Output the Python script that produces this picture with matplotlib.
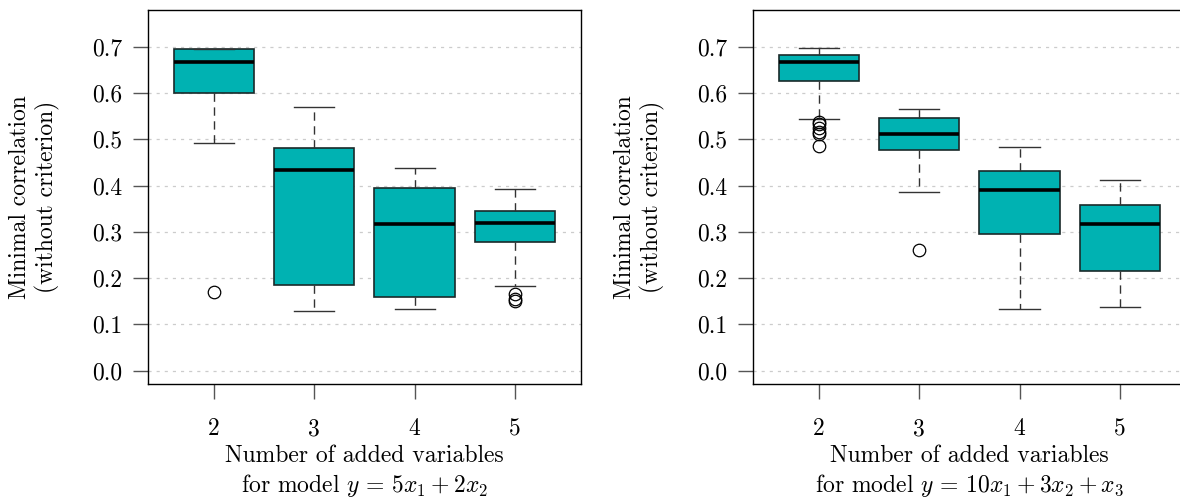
import matplotlib.pyplot as plt

plt.rcParams['font.family'] = 'serif'
plt.rcParams['font.serif'] = ['cmr10']
plt.rcParams['mathtext.fontset'] = 'cm'
plt.rcParams['axes.unicode_minus'] = False

groups = [2, 3, 4, 5]
y_ticks = [0.0, 0.1, 0.2, 0.3, 0.4, 0.5, 0.6, 0.7]
y_tick_labels = ["0.0", "0.1", "0.2", "0.3", "0.4", "0.5", "0.6", "0.7"]

# model y = 5x1 + 2x2
left_whislo = [0.493, 0.130, 0.133, 0.183]
left_q1 = [0.600, 0.186, 0.159, 0.277]
left_med = [0.668, 0.434, 0.317, 0.320]
left_q3 = [0.694, 0.482, 0.395, 0.346]
left_whishi = [0.696, 0.570, 0.439, 0.392]
left_fliers = [[0.171], [], [], [0.165, 0.155, 0.150]]

# model y = 10x1 + 3x2 + x3
right_whislo = [0.543, 0.385, 0.133, 0.137]
right_q1 = [0.626, 0.476, 0.295, 0.216]
right_med = [0.667, 0.511, 0.390, 0.316]
right_q3 = [0.683, 0.547, 0.431, 0.359]
right_whishi = [0.698, 0.566, 0.484, 0.413]
right_fliers = [[0.537, 0.532, 0.524, 0.516, 0.512, 0.486], [0.260], [], []]

x_labels = ["Number of added variables\nfor model $y\\,=\\,5x_1 + 2x_2$",
            "Number of added variables\nfor model $y\\,=\\,10x_1 + 3x_2 + x_3$"]
y_label = "Minimal correlation\n(without criterion)"

fill_color = "#00b2b2"
fs = 17

fig = plt.figure(figsize=(11.8, 4.97), dpi=100)
ax_left = fig.add_axes([0.1254, 0.2274, 0.3669, 0.7525])
ax_right = fig.add_axes([0.6381, 0.2274, 0.3669, 0.7525])

panels = [
    (ax_left, left_whislo, left_q1, left_med, left_q3, left_whishi, left_fliers, x_labels[0]),
    (ax_right, right_whislo, right_q1, right_med, right_q3, right_whishi, right_fliers, x_labels[1]),
]

for ax, wlo, q1, med, q3, whi, fl, xlab in panels:
    stats = []
    for i in range(len(groups)):
        stats.append(dict(whislo=wlo[i], q1=q1[i], med=med[i], q3=q3[i],
                          whishi=whi[i], fliers=fl[i]))
    ax.bxp(stats, positions=groups, widths=0.8, capwidths=0.4,
           patch_artist=True, showfliers=True,
           boxprops=dict(facecolor=fill_color, edgecolor="#1a2a2a", linewidth=1.2),
           medianprops=dict(color="black", linewidth=2.6, solid_capstyle="butt"),
           whiskerprops=dict(color="#333333", linewidth=1.0, linestyle=(0, (6, 4))),
           capprops=dict(color="#333333", linewidth=1.0),
           flierprops=dict(marker="o", markersize=9, markerfacecolor="none",
                           markeredgecolor="black", markeredgewidth=0.9),
           zorder=3)

    for t in y_ticks:
        ax.axhline(t, color="#cccccc", linewidth=0.9, linestyle=(0, (2.5, 4)), zorder=1)

    ax.set_xlim(1.34, 5.66)
    ax.set_ylim(-0.0287, 0.7793)
    ax.set_xticks(groups)
    ax.set_xticklabels([str(g) for g in groups], fontsize=fs)
    ax.set_yticks(y_ticks)
    ax.set_yticklabels(y_tick_labels, fontsize=fs)
    ax.tick_params(axis="both", direction="out", length=10.5, width=1.0, color="#555555")
    ax.tick_params(axis="x", pad=14)
    ax.tick_params(axis="y", pad=8)
    for sp in ax.spines.values():
        sp.set_color("black")
        sp.set_linewidth(1.0)

    ax.text(0.5, -0.235, xlab, transform=ax.transAxes, ha="center", va="center",
            fontsize=fs, linespacing=1.25)
    ax.text(-0.262, 0.5, y_label, transform=ax.transAxes, ha="center", va="center",
            rotation=90, fontsize=fs, linespacing=1.25)

fig.savefig("out.png", dpi=100)
